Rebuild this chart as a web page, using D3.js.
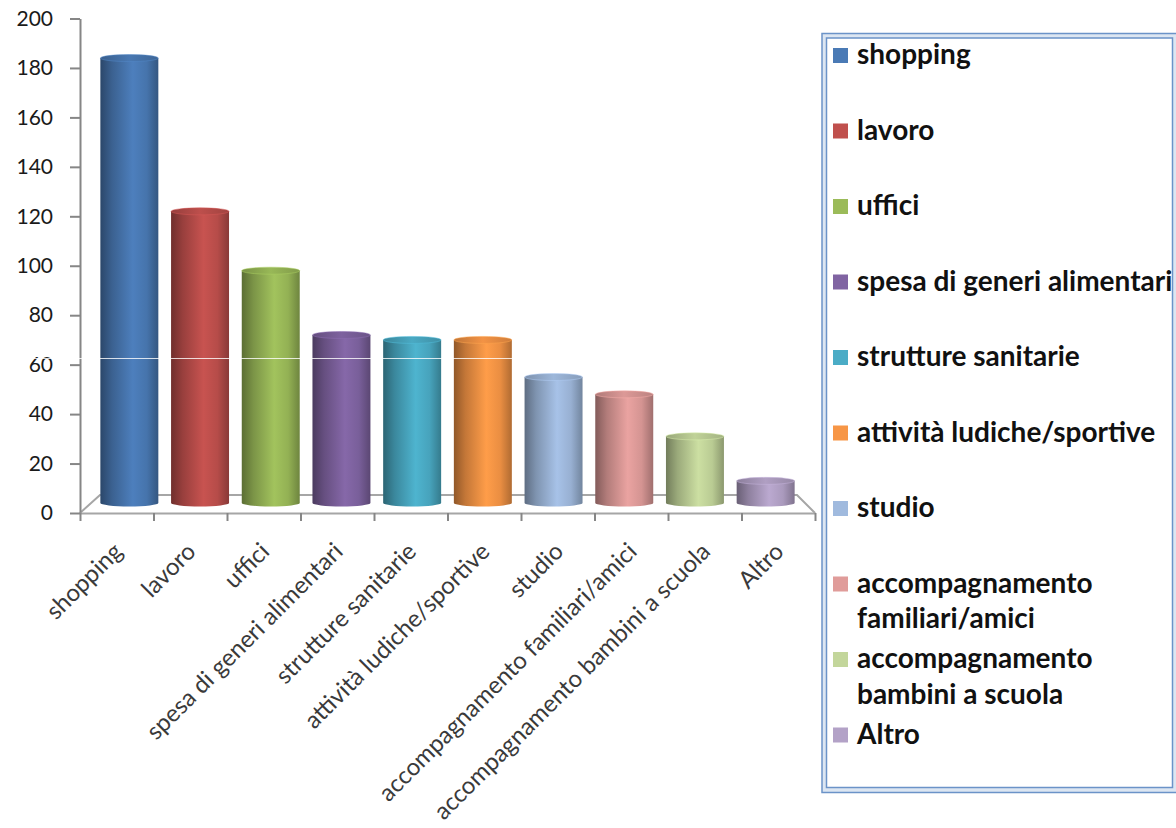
<!DOCTYPE html>
<html><head><meta charset="utf-8">
<script src="https://cdn.jsdelivr.net/npm/d3@7"></script>
<style>body{margin:0;background:#fff;} svg{display:block;}</style>
</head><body><svg id="chart" width="1176" height="828"></svg>
<script>
const categories = ["shopping","lavoro","uffici","spesa di generi alimentari","strutture sanitarie","attività ludiche/sportive","studio","accompagnamento familiari/amici","accompagnamento bambini a scuola","Altro"];
const values = [184,122,98,72,70,70,55,48,31,13];
const colors = ["#4A7AB5","#C0504D","#9BBB59","#8064A2","#4BACC6","#F79646","#A0BADE","#E09C9A","#C3D69B","#B3A2C7"];
const yTicks = [0,20,40,60,80,100,120,140,160,180,200];
const legendLabels = [["shopping"],["lavoro"],["uffici"],["spesa di generi alimentari"],["strutture sanitarie"],["attività ludiche/sportive"],["studio"],["accompagnamento","familiari/amici"],["accompagnamento","bambini a scuola"],["Altro"]];

const svg = d3.select("#chart");
const defs = svg.append("defs");

const y = d3.scaleLinear().domain([0,200]).range([513,18.5]);
const xFront = d3.scaleBand().domain(categories).range([80,815]);
const xEdge = d3.scaleLinear().domain([0,categories.length]).range([80,815]);
const xBar = d3.scaleBand().domain(categories).range([94,801]).paddingInner(0.18).paddingOuter(0.09);
const floorBack = [100,797], floorDepthY = 18;
const barBaseY = 503, ry = 3.5;

// floor
const y0 = y(0);
svg.append("path")
  .attr("d", `M${xFront.range()[0]},${y0} L${floorBack[0]},${y0-floorDepthY} L${floorBack[1]},${y0-floorDepthY} L${xFront.range()[1]},${y0}`)
  .attr("fill","#fff").attr("stroke","#a6a6a6").attr("stroke-width",2);

// gradients
categories.forEach((c,i)=>{
  const base = d3.color(colors[i]);
  const g = defs.append("linearGradient").attr("id","g"+i).attr("x1",0).attr("x2",1).attr("y1",0).attr("y2",0);
  [[0,base.darker(1.5)],[0.2,base.darker(0.65)],[0.56,base.brighter(0.12)],[0.8,base.darker(0.15)],[1,base.darker(0.95)]]
    .forEach(([o,col])=>g.append("stop").attr("offset",o).attr("stop-color",col.formatHex()));
  const gt = defs.append("linearGradient").attr("id","t"+i).attr("x1",0).attr("x2",1).attr("y1",0).attr("y2",0);
  [[0,base.darker(0.7)],[0.5,base.darker(0.05)],[1,base.darker(0.5)]]
    .forEach(([o,col])=>gt.append("stop").attr("offset",o).attr("stop-color",col.formatHex()));
});

const bars = svg.append("g").selectAll("g").data(categories).join("g");
bars.append("path")
  .attr("d",(c,i)=>{
    const x0 = xBar(c), x1 = x0 + xBar.bandwidth(), yt = y(values[i]), rx = xBar.bandwidth()/2;
    return `M${x0},${yt} L${x0},${barBaseY} A${rx},${ry} 0 0 0 ${x1},${barBaseY} L${x1},${yt} Z`;
  })
  .attr("fill",(c,i)=>`url(#g${i})`);
bars.append("ellipse")
  .attr("cx",c=>xBar(c)+xBar.bandwidth()/2)
  .attr("cy",(c,i)=>y(values[i]))
  .attr("rx",xBar.bandwidth()/2).attr("ry",ry)
  .attr("fill",(c,i)=>`url(#t${i})`)
  .attr("stroke",(c,i)=>d3.color(colors[i]).brighter(0.3).formatHex()).attr("stroke-width",0.5);

// y axis
const yAxis = svg.append("g").attr("transform","translate(80,0)")
  .call(d3.axisLeft(y).tickValues(yTicks).tickSize(10).tickSizeOuter(0).tickPadding(17));
yAxis.select(".domain").attr("stroke","#868686").attr("stroke-width",2);
yAxis.selectAll(".tick line").attr("stroke","#868686").attr("stroke-width",2);
yAxis.selectAll(".tick text").attr("font-family","Lato").attr("font-size",21).attr("fill","#1a1a1a");

// x axis ticks
const xAxis = svg.append("g").attr("transform",`translate(0,${y0})`)
  .call(d3.axisBottom(xEdge).tickValues(d3.range(categories.length+1)).tickSize(8).tickSizeOuter(0).tickFormat(""));
xAxis.select(".domain").attr("stroke","#a6a6a6").attr("stroke-width",2);
xAxis.selectAll(".tick line").attr("stroke","#868686").attr("stroke-width",2);

// category labels
svg.append("g").selectAll("text").data(categories).join("text")
  .attr("transform",c=>`translate(${xFront(c)+xFront.bandwidth()/2+7},553) rotate(-45)`)
  .attr("text-anchor","end")
  .attr("font-family","Lato").attr("font-size",24).attr("fill","#3a3a3a")
  .text(c=>c);

// thin light scan line artifact across the plot
svg.append("line").attr("x1",0).attr("x2",822).attr("y1",358.5).attr("y2",358.5)
  .attr("stroke","#ffffff").attr("stroke-opacity",0.8).attr("stroke-width",1);

// legend
const lg = svg.append("g");
lg.append("rect").attr("x",822).attr("y",33.5).attr("width",360).attr("height",759).attr("fill","#dce6f2").attr("stroke","#6b93c8").attr("stroke-width",1.5);
lg.append("rect").attr("x",826.5).attr("y",38).attr("width",346).attr("height",749.5).attr("fill","#fff").attr("stroke","#6b93c8").attr("stroke-width",1.5);
const itemY = d3.scaleLinear().domain([0,categories.length-1]).range([55.5,735]);
const items = lg.selectAll("g.item").data(categories).join("g").attr("class","item")
  .attr("transform",(c,i)=>`translate(833,${itemY(i)})`);
items.append("rect").attr("x",0).attr("y",-7.5).attr("width",15).attr("height",15).attr("fill",(c,i)=>colors[i]);
items.append("text").attr("x",24).attr("y",8.5)
  .attr("font-family","Lato").attr("font-weight","bold").attr("font-size",28).attr("fill","#111")
  .selectAll("tspan").data((c,i)=>legendLabels[i]).join("tspan")
  .attr("x",24).attr("dy",(d,j)=>j===0?0:35.5).text(d=>d);
</script>
</body></html>
